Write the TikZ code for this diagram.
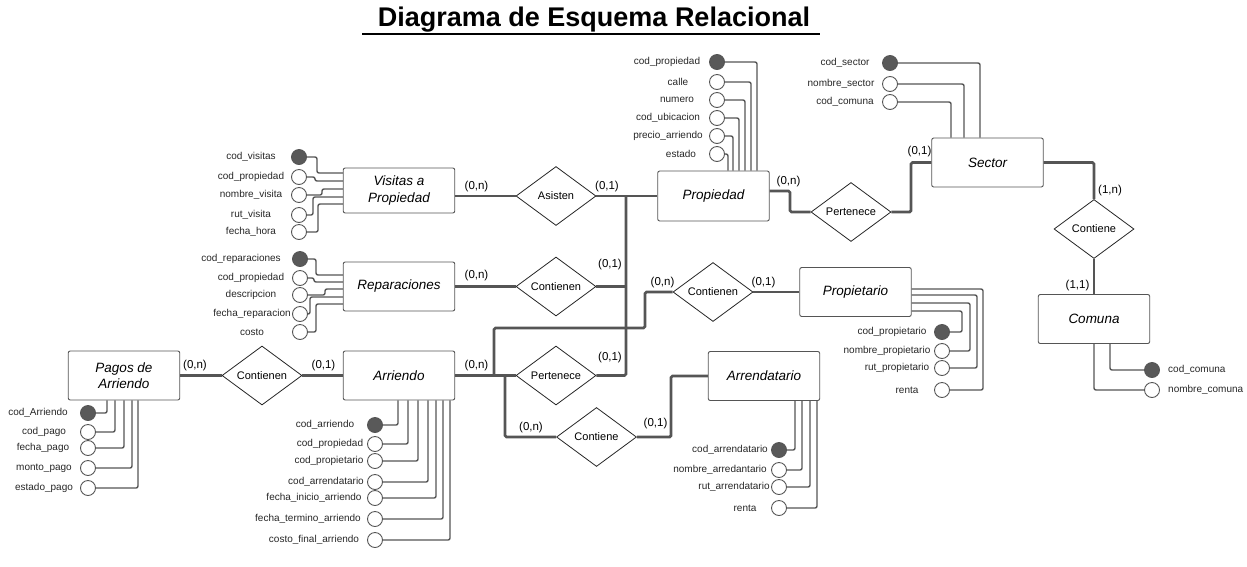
\documentclass[tikz,border=0pt]{standalone}
\usepackage{fontspec}
\setmainfont{Liberation Sans}
\usetikzlibrary{positioning}
\usetikzlibrary{shapes.geometric}

\definecolor{keyfill}{HTML}{595959}
\definecolor{linegray}{HTML}{555555}

\begin{document}
\begin{tikzpicture}[x=1pt, y=-1pt,
    entity/.style={draw=linegray, rounded corners=2pt, fill=white, minimum width=111.5pt, minimum height=49pt,
        align=center, font=\fontsize{13.5}{16.5}\selectfont\itshape, line width=0.9pt},
    relation/.style={draw=black!85, diamond, aspect=1.35, minimum width=80pt, minimum height=59pt,
        inner sep=0pt, fill=white, font=\fontsize{11}{13}\selectfont, line width=0.8pt},
    attr/.style={circle, draw=linegray, minimum size=15pt, inner sep=0pt, line width=0.9pt},
    lbl/.style={font=\fontsize{10}{12}\selectfont, text=black!85, inner sep=0pt},
    card/.style={font=\fontsize{11.5}{13}\selectfont, inner sep=0pt},
    rel/.style={draw=linegray, line width=2.8pt, rounded corners=1.5pt},
    link/.style={draw=linegray, line width=1.4pt, rounded corners=2pt}
]
\useasboundingbox (0,0) rectangle (1247,566);

% Title
\node[font=\fontsize{27}{30}\selectfont\bfseries, anchor=base] (title) at (594,26) {Diagrama de Esquema Relacional};
\draw[line width=2.4pt] (362,34) -- (820,34);

% Entities
\node[entity, minimum height=45pt] (vis) at (399,190.5) {Visitas a\\Propiedad};
\node[entity] (rep) at (399,286.5) {Reparaciones};
\node[entity] (arr) at (399,375.5) {Arriendo};
\node[entity] (pag) at (124,375.5) {Pagos de\\Arriendo};
\node[entity, minimum height=50pt] (prop) at (713.5,196) {Propiedad};
\node[entity] (sec) at (987.5,162.5) {Sector};
\node[entity] (pto) at (855.5,292) {Propietario};
\node[entity] (adt) at (764,376) {Arrendatario};
\node[entity] (com) at (1094,319) {Comuna};

% Relationships
\node[relation] (asi) at (556,196) {Asisten};
\node[relation] (crep) at (556,286.5) {Contienen};
\node[relation] (parr) at (556,375.5) {Pertenece};
\node[relation] (cpag) at (262,375.5) {Contienen};
\node[relation] (cpto) at (713,292) {Contienen};
\node[relation] (cadt) at (596.5,437) {Contiene};
\node[relation] (pprop) at (851,212) {Pertenece};
\node[relation] (ccom) at (1094,229) {Contiene};

% Relationship lines
\coordinate (tp) at (626,196);
\coordinate (ja) at (494,375.5);
\coordinate (jb) at (505,375.5);
\draw[rel] (vis.east |- asi.west) -- (asi.west);
\draw[rel] (asi.east) -- (prop.west);
\draw[rel] (tp) |- (parr.east);
\draw[rel] (crep.east) -- (crep.east -| tp);
\draw[rel] (rep.east) -- (crep.west);
\draw[rel] (arr.east) -- (parr.west);
\draw[rel] (ja) |- (645,328) |- (cpto.west);
\draw[rel] (jb) |- (cadt.west);
\draw[rel] (cadt.east) -| (671,376) -- (adt.west);
\draw[rel] (cpto.east) -- (pto.west);
\draw[rel] (prop.east |- 0,191) -| (790,212) -- (pprop.west);
\draw[rel] (pprop.east) -| (911,162.5) -- (sec.west);
\draw[rel] (sec.east) -| (ccom.north);
\draw[rel] (ccom.south) -- (com.north);
\draw[rel] (pag.east) -- (cpag.west);
\draw[rel] (cpag.east) -- (arr.west);

% Cardinalities
\node[card] (k1) at (476.5,186.5) {(0,n)};
\node[card] (k2) at (607,186.5) {(0,1)};
\node[card] (k3) at (476.5,276) {(0,n)};
\node[card] (k4) at (610,265) {(0,1)};
\node[card] (k5) at (662.5,282.5) {(0,n)};
\node[card] (k6) at (763.5,282.5) {(0,1)};
\node[card] (k7) at (476.5,365.5) {(0,n)};
\node[card] (k8) at (610,358) {(0,1)};
\node[card] (k9) at (531,428) {(0,n)};
\node[card] (k10) at (655.5,424) {(0,1)};
\node[card] (k11) at (788.5,181.5) {(0,n)};
\node[card] (k12) at (919.5,151.5) {(0,1)};
\node[card] (k13) at (1110,190.5) {(1,n)};
\node[card] (k14) at (1077.5,286) {(1,1)};
\node[card] (k15) at (195,365.5) {(0,n)};
\node[card] (k16) at (323.5,365.5) {(0,1)};

% Attributes of Visitas a Propiedad
\foreach \i/\fc/\txt/\lx/\cy/\vx/\ey in {
    1/keyfill/cod\_visitas/251/157/317/173,
    2/white/cod\_propiedad/251/177/315/181,
    3/white/nombre\_visita/251/195/322/189,
    4/white/rut\_visita/251/215/313/197,
    5/white/fecha\_hora/251/232/318/204} {
    \node[attr, fill=\fc] (va\i) at (299,\cy) {};
    \node[lbl] (val\i) at (\lx,\cy) {\txt};
    \draw[link] (va\i.east) -| (\vx,\ey) -- (vis.west |- 0,\ey);
}

% Attributes of Reparaciones
\foreach \i/\fc/\txt/\lx/\cy/\vx/\ey in {
    1/keyfill/cod\_reparaciones/241/259/316/275,
    2/white/cod\_propiedad/251/278/314/282,
    3/white/descripcion/251/295/325/289,
    4/white/fecha\_reparacion/252/314/310/297,
    5/white/costo/252/332/316/304} {
    \node[attr, fill=\fc] (ra\i) at (300,\cy) {};
    \node[lbl] (ral\i) at (\lx,\cy) {\txt};
    \draw[link] (ra\i.east) -| (\vx,\ey) -- (rep.west |- 0,\ey);
}

% Attributes of Propiedad
\foreach \i/\fc/\txt/\lx/\cy/\vx in {
    1/keyfill/cod\_propiedad/667/62/757,
    2/white/calle/678/82/751,
    3/white/numero/677/100/745,
    4/white/cod\_ubicacion/668/118/739,
    5/white/precio\_arriendo/668/136/733,
    6/white/estado/681/154/728} {
    \node[attr, fill=\fc] (pa\i) at (717,\cy) {};
    \node[lbl] (pal\i) at (\lx,\cy) {\txt};
    \draw[link] (pa\i.east) -| (prop.north -| \vx,0);
}

% Attributes of Sector
\foreach \i/\fc/\txt/\lx/\cy/\vx in {
    1/keyfill/cod\_sector/845/63/980,
    2/white/nombre\_sector/841/84/964,
    3/white/cod\_comuna/845/102/951} {
    \node[attr, fill=\fc] (sa\i) at (890,\cy) {};
    \node[lbl] (sal\i) at (\lx,\cy) {\txt};
    \draw[link] (sa\i.east) -| (sec.north -| \vx,0);
}

% Attributes of Propietario
\foreach \i/\fc/\txt/\lx/\cy/\vx/\ey in {
    1/keyfill/cod\_propietario/892/332/962/311,
    2/white/nombre\_propietario/887/351/970/303,
    3/white/rut\_propietario/897/368/977/295,
    4/white/renta/907/390/983/289} {
    \node[attr, fill=\fc] (oa\i) at (942,\cy) {};
    \node[lbl] (oal\i) at (\lx,\cy) {\txt};
    \draw[link] (pto.east |- 0,\ey) -| (\vx,\cy) -- (oa\i.east);
}

% Attributes of Comuna
\foreach \i/\fc/\txt/\cy/\vx in {
    1/keyfill/cod\_comuna/370/1110,
    2/white/nombre\_comuna/390/1094} {
    \node[attr, fill=\fc] (ca\i) at (1152,\cy) {};
    \node[lbl, anchor=west] (cal\i) at (1168,\cy) {\txt};
    \draw[link] (com.south -| \vx,0) |- (ca\i.west);
}

% Attributes of Pagos de Arriendo
\foreach \i/\fc/\txt/\lx/\cy/\vx in {
    1/keyfill/cod\_Arriendo/38/413/107,
    2/white/cod\_pago/44/432/115,
    3/white/fecha\_pago/43/448/124,
    4/white/monto\_pago/44/468/132,
    5/white/estado\_pago/44/488/138} {
    \node[attr, fill=\fc] (ga\i) at (88,\cy) {};
    \node[lbl] (gal\i) at (\lx,\cy) {\txt};
    \draw[link] (pag.south -| \vx,0) |- (ga\i.east);
}

% Attributes of Arriendo
\foreach \i/\fc/\txt/\lx/\cy/\vx in {
    1/keyfill/cod\_arriendo/325/425/398,
    2/white/cod\_propiedad/330/444/408,
    3/white/cod\_propietario/329/461/418,
    4/white/cod\_arrendatario/326/482/428,
    5/white/fecha\_inicio\_arriendo/314/498/436,
    6/white/fecha\_termino\_arriendo/308/519/443,
    7/white/costo\_final\_arriendo/314/540/450} {
    \node[attr, fill=\fc] (aa\i) at (375,\cy) {};
    \node[lbl] (aal\i) at (\lx,\cy) {\txt};
    \draw[link] (arr.south -| \vx,0) |- (aa\i.east);
}

% Attributes of Arrendatario
\foreach \i/\fc/\txt/\lx/\cy/\vx in {
    1/keyfill/cod\_arrendatario/730/450/795,
    2/white/nombre\_arredantario/720/470/802,
    3/white/rut\_arrendatario/734/487/810,
    4/white/renta/745/508/817} {
    \node[attr, fill=\fc] (da\i) at (779,\cy) {};
    \node[lbl] (dal\i) at (\lx,\cy) {\txt};
    \draw[link] (adt.south -| \vx,0) |- (da\i.east);
}

\end{tikzpicture}
\end{document}
